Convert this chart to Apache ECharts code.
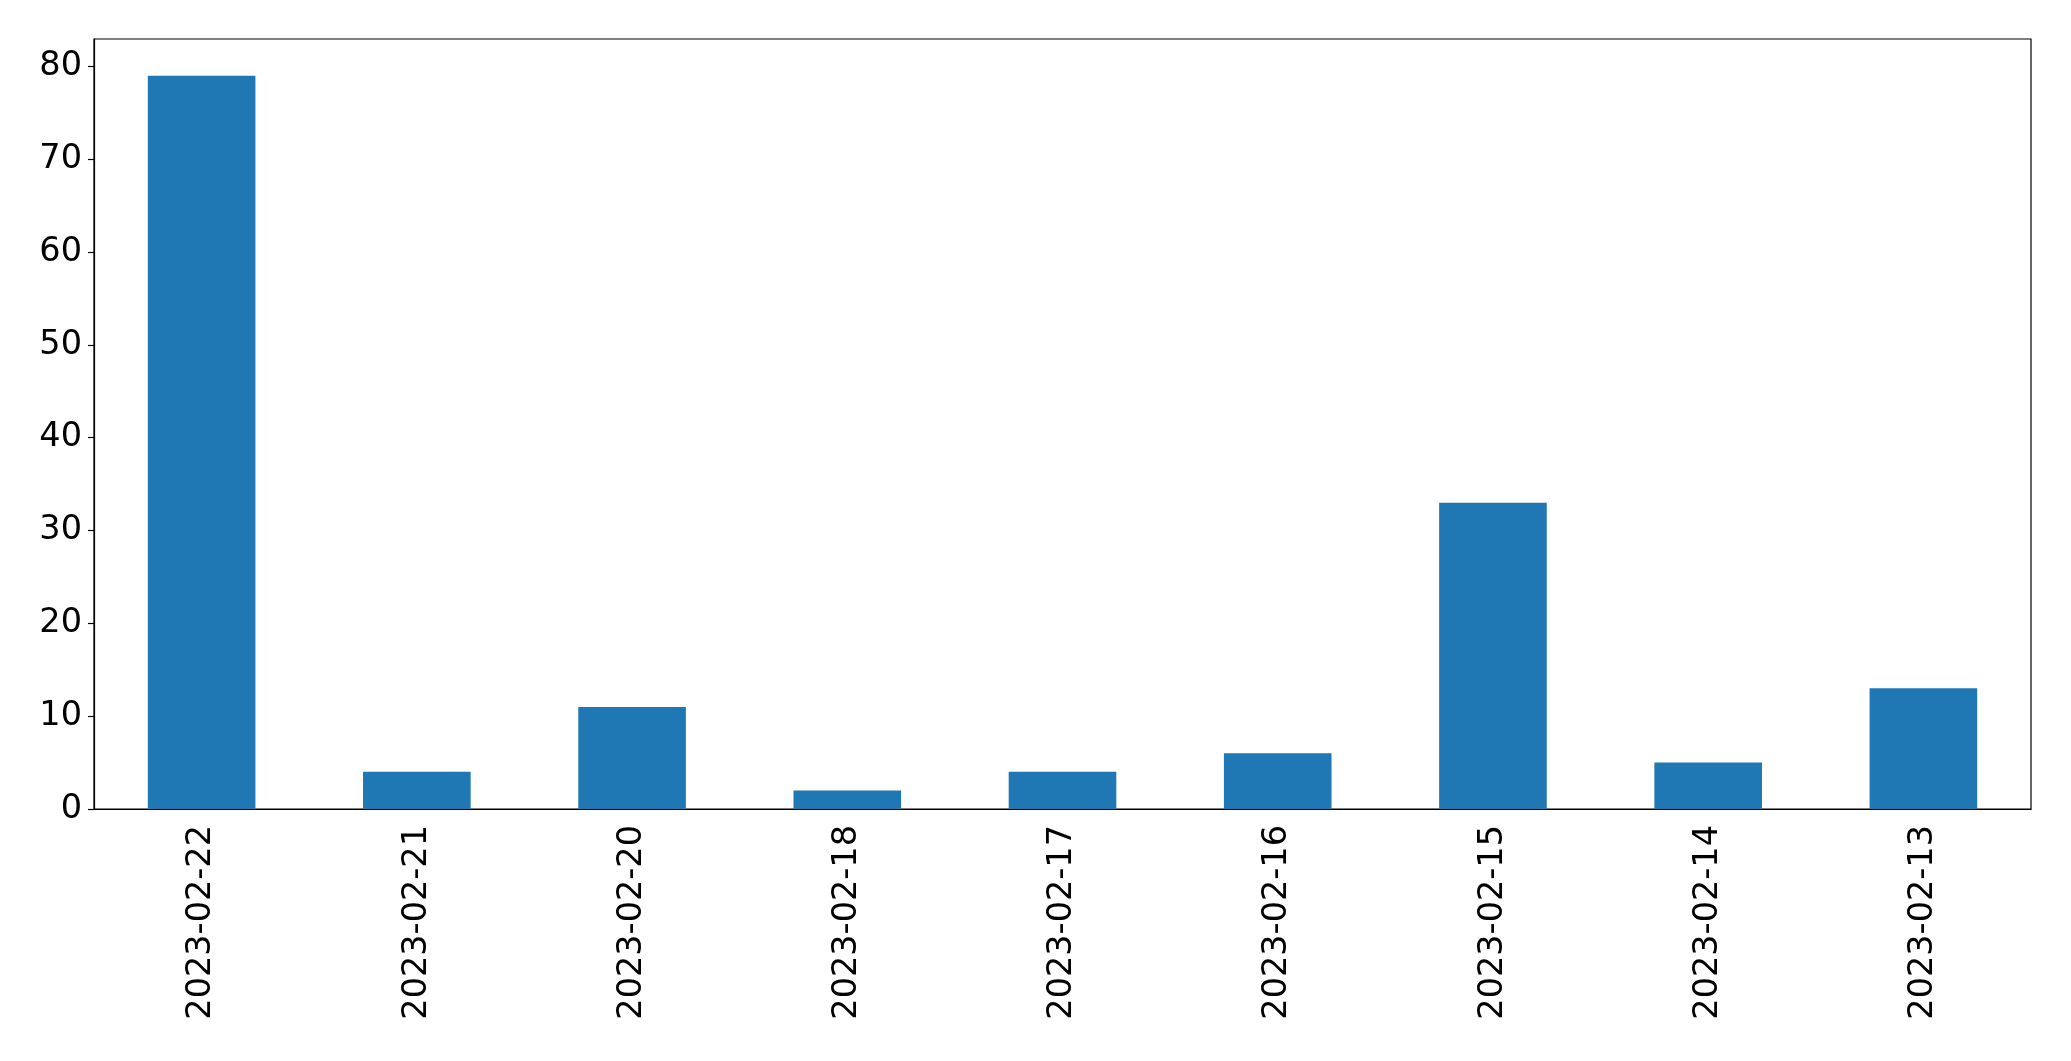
<!DOCTYPE html>
<html><head><meta charset="utf-8">
<script src="https://cdn.jsdelivr.net/npm/echarts@6/dist/echarts.min.js"></script>
<style>html,body{margin:0;padding:0;background:#fff}#c{width:2071px;height:1061px}</style>
</head><body><div id="c"></div>
<script>
const categories = ['2023-02-22','2023-02-21','2023-02-20','2023-02-18','2023-02-17','2023-02-16','2023-02-15','2023-02-14','2023-02-13'];
const values = [79, 4, 11, 2, 4, 6, 33, 5, 13];
const yTicks = [0, 10, 20, 30, 40, 50, 60, 70, 80];
const yMax = 82.95;

const chart = echarts.init(document.getElementById('c'), null, {renderer: 'canvas'});
const font = 'DejaVu Sans';
chart.setOption({
  animation: false,
  grid: {left: 94, right: 40, top: 39, bottom: 252, show: true, borderColor: '#000', borderWidth: 1.2, backgroundColor: 'transparent'},
  xAxis: {
    type: 'category', data: categories, boundaryGap: true,
    axisLine: {lineStyle: {color: '#000', width: 1.2}},
    axisTick: {alignWithLabel: true, length: 6, lineStyle: {color: '#000', width: 1.2}},
    axisLabel: {rotate: 90, color: '#000', fontFamily: font, fontSize: 33.5, margin: 16, interval: 0}
  },
  yAxis: {
    type: 'value', min: 0, max: yMax,
    splitLine: {show: false},
    axisLine: {show: true, lineStyle: {color: '#000', width: 1.2}},
    axisTick: {show: true, length: 6, customValues: yTicks, lineStyle: {color: '#000', width: 1.2}},
    axisLabel: {color: '#000', fontFamily: font, fontSize: 33.5, margin: 12, customValues: yTicks}
  },
  series: [{
    type: 'bar', data: values, barWidth: '50%',
    itemStyle: {color: '#1f77b4'}
  }]
});
</script></body></html>
